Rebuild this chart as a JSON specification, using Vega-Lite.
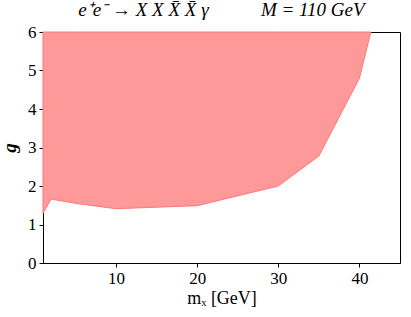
{
  "$schema": "https://vega.github.io/schema/vega-lite/v6.json",
  "autosize": "none",
  "width": 357,
  "height": 231,
  "padding": {"left": 43, "top": 32, "right": 11, "bottom": 54},
  "background": "white",
  "config": {
    "view": {"stroke": "black", "strokeWidth": 1},
    "font": "Liberation Serif"
  },
  "title": {
    "text": "e\u207ae\u207b \u2192 X X X\u0304 X\u0304 \u03b3\u00a0\u00a0\u00a0\u00a0\u00a0\u00a0\u00a0\u00a0\u00a0\u00a0\u00a0M = 110 GeV",
    "font": "Liberation Serif",
    "fontStyle": "italic",
    "fontWeight": "normal",
    "fontSize": 19,
    "color": "black",
    "anchor": "middle",
    "dx": 0,
    "offset": 3
  },
  "data": {
    "values": [
      {"m": 1.0, "g": 1.29},
      {"m": 2.0, "g": 1.66},
      {"m": 5.0, "g": 1.55},
      {"m": 10.0, "g": 1.41},
      {"m": 20.0, "g": 1.49},
      {"m": 30.0, "g": 2.0},
      {"m": 35.0, "g": 2.78},
      {"m": 40.0, "g": 4.8},
      {"m": 41.4, "g": 6.0}
    ]
  },
  "mark": {"type": "area", "color": "#ff9999", "stroke": "#ff7777", "strokeWidth": 1, "opacity": 1},
  "encoding": {
    "x": {
      "field": "m", "type": "quantitative",
      "scale": {"domain": [1, 45], "nice": false, "zero": false},
      "axis": {
        "values": [10, 20, 30, 40],
        "grid": false,
        "domainColor": "black", "tickColor": "black", "tickSize": 4,
        "labelFont": "Liberation Serif", "labelFontSize": 17, "labelColor": "black",
        "labelPadding": 3,
        "title": "mₓ [GeV]",
        "titleFont": "Liberation Serif", "titleFontSize": 18, "titleFontWeight": "normal",
        "titleColor": "black", "titlePadding": 3
      }
    },
    "y": {
      "field": "g", "type": "quantitative",
      "scale": {"domain": [0, 6], "nice": false},
      "axis": {
        "values": [0, 1, 2, 3, 4, 5, 6],
        "grid": false,
        "domainColor": "black", "tickColor": "black", "tickSize": 4,
        "labelFont": "Liberation Serif", "labelFontSize": 17, "labelColor": "black",
        "labelPadding": 3,
        "title": "g",
        "titleFont": "Liberation Serif", "titleFontSize": 19, "titleFontWeight": "bold",
        "titleFontStyle": "italic",
        "titleColor": "black", "titlePadding": 8
      }
    },
    "y2": {"datum": 6}
  }
}
